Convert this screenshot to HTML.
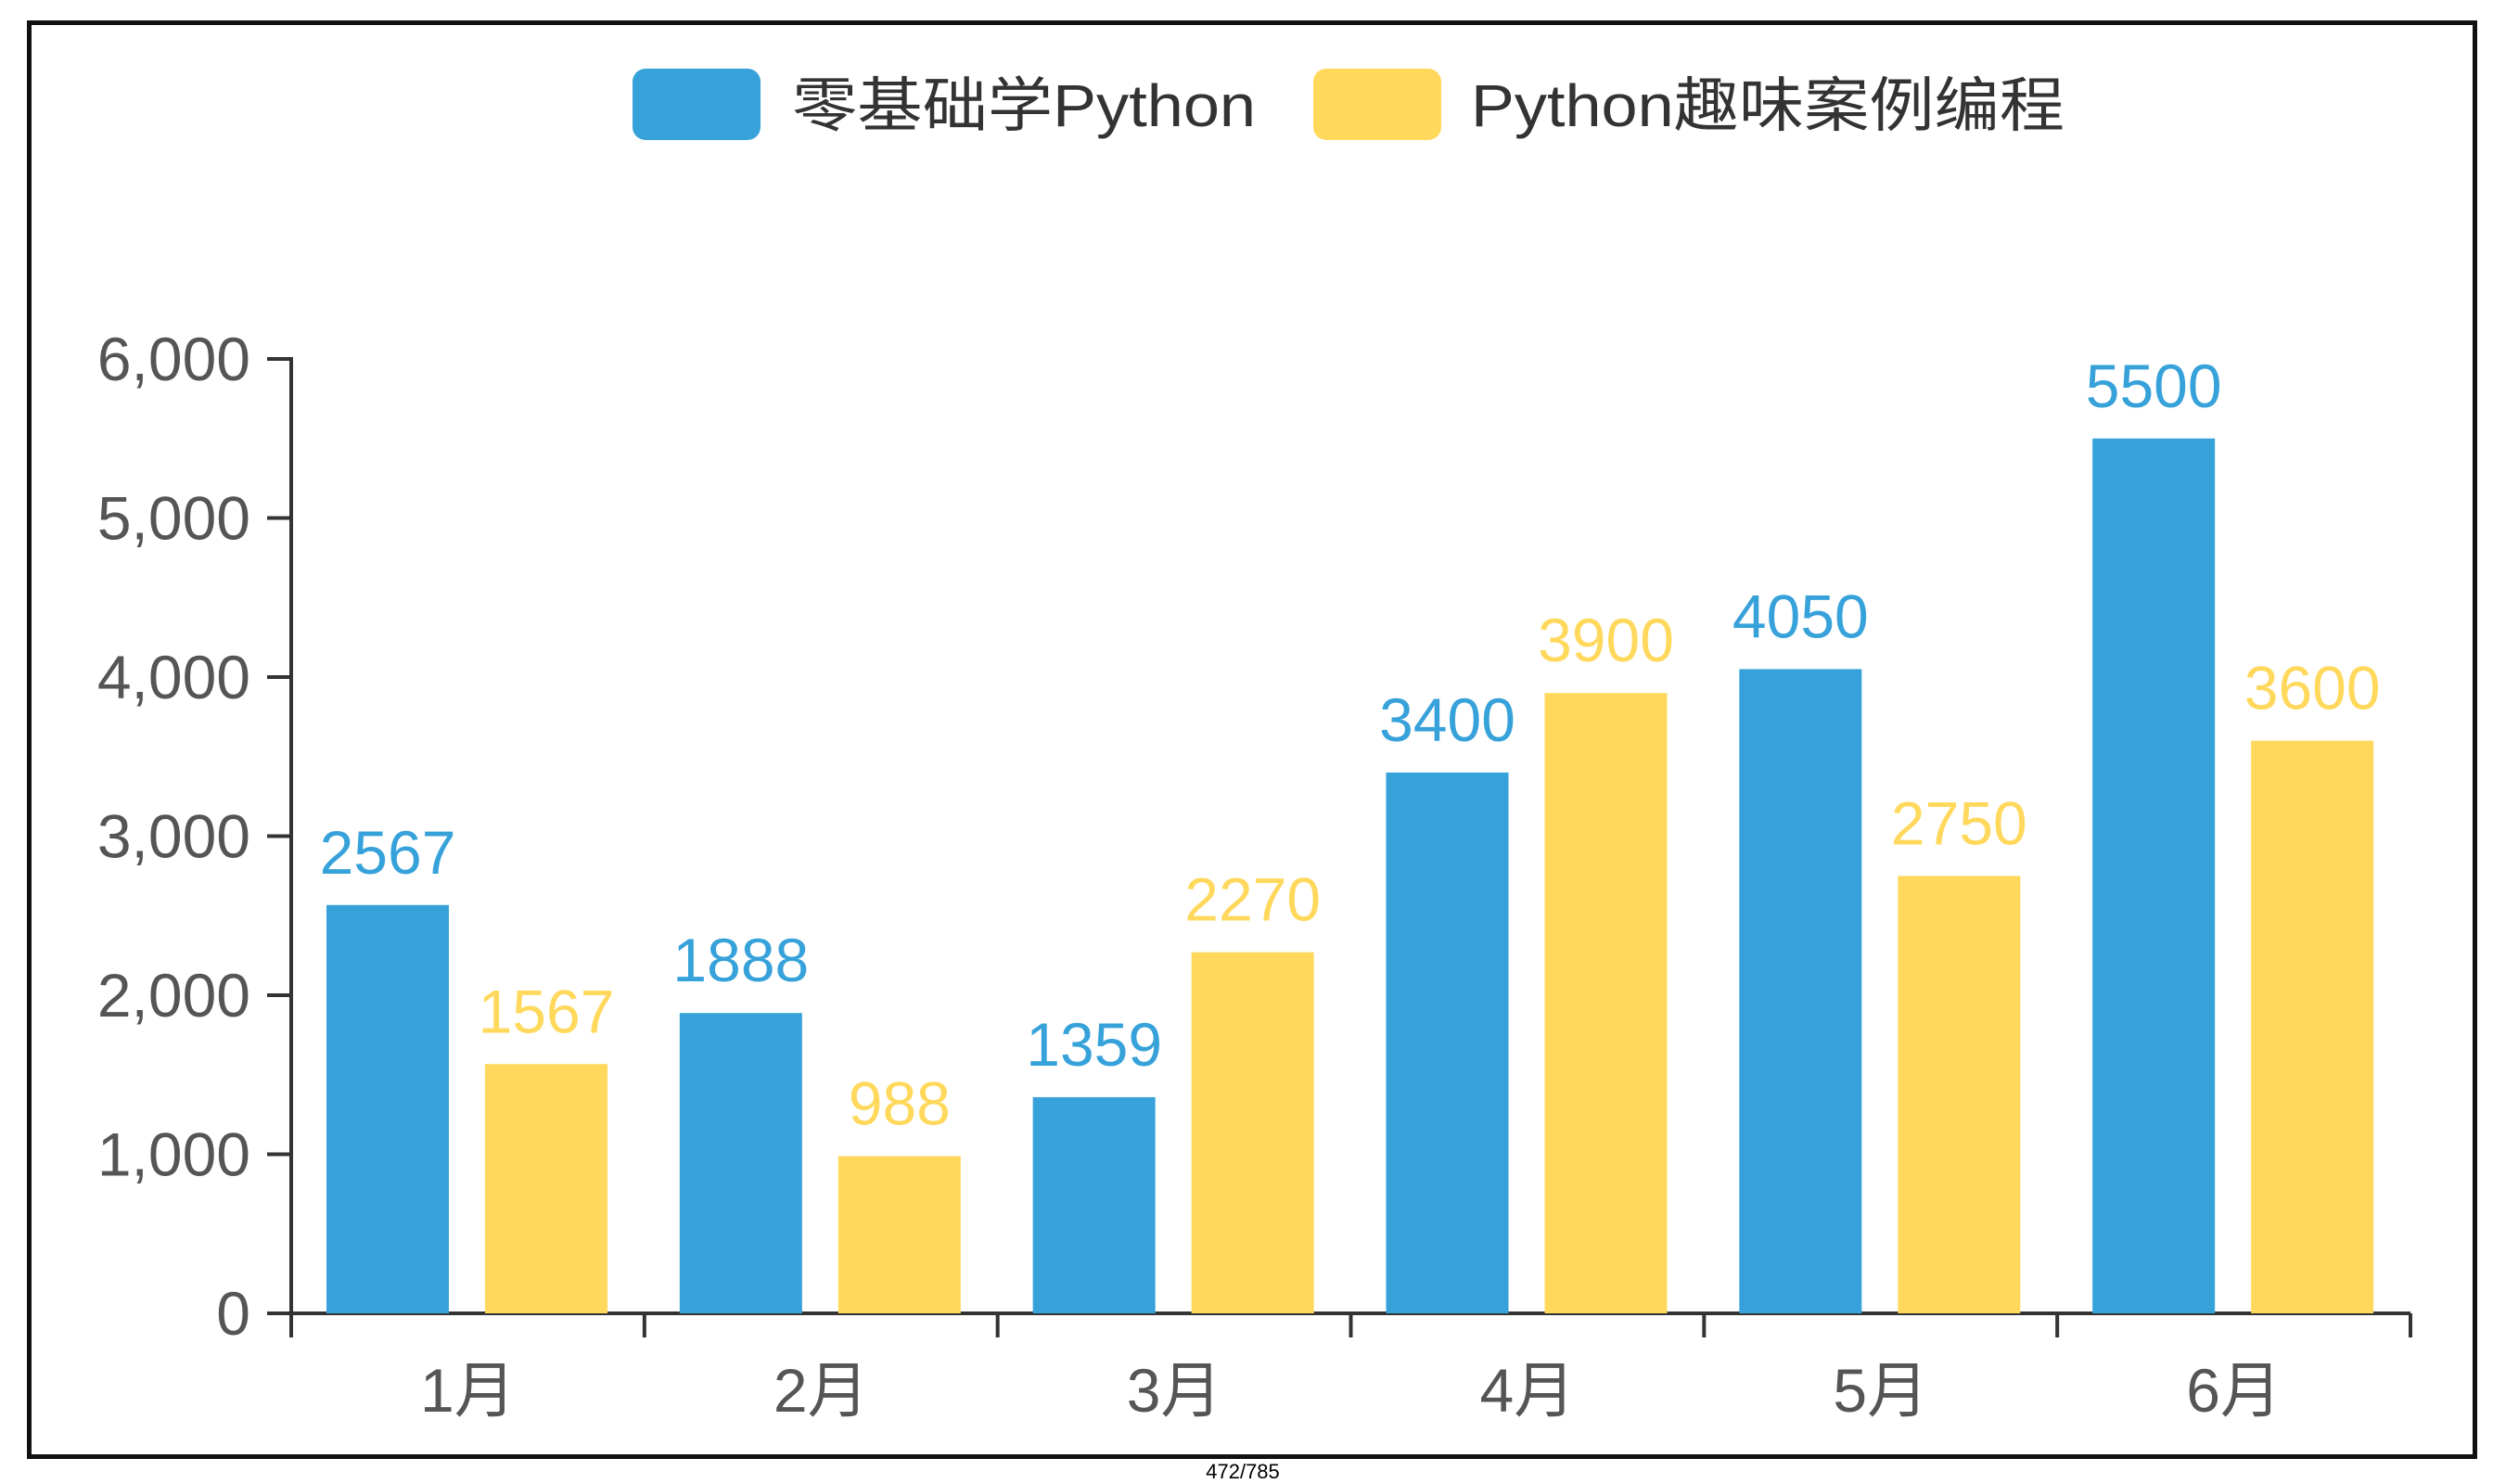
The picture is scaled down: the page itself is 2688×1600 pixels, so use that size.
<!DOCTYPE html>
<html><head><meta charset="utf-8">
<style>
html,body{margin:0;padding:0;background:#fff;}
body{width:2688px;height:1600px;position:relative;overflow:hidden;font-family:"Liberation Sans","Noto Sans CJK SC",sans-serif;}
</style></head>
<body>
<div style="position:absolute;left:29px;top:22px;width:2632px;height:1541px;border:5px solid #111;"></div>
<div style="position:absolute;left:1290px;top:1574px;width:100px;text-align:center;font-size:22px;color:#000;">472/785</div>
<svg id="chart" width="2688" height="1600" style="position:absolute;left:0;top:0" xmlns="http://www.w3.org/2000/svg"></svg>
<script>
const categories = ["1月","2月","3月","4月","5月","6月"];
const seriesNames = ["零基础学Python","Python趣味案例编程"];
const seriesA = [2567,1888,1359,3400,4050,5500];
const seriesB = [1567,988,2270,3900,2750,3600];
const yTicks = [0,1000,2000,3000,4000,5000,6000];
const yTickLabels = ["0","1,000","2,000","3,000","4,000","5,000","6,000"];

const NS = "http://www.w3.org/2000/svg";
const svg = document.getElementById("chart");
const colors = ["#37a2da","#ffd85c"];
const x0 = 314, x1 = 2599, y0 = 1416, yTop = 387, yMax = 6000;
const band = (x1 - x0) / categories.length;
function yScale(v){ return y0 - (v / yMax) * (y0 - yTop); }
function xBand(i){ return x0 + i * band; }
function mk(tag, attrs){ const e = document.createElementNS(NS, tag); for (const k in attrs) e.setAttribute(k, attrs[k]); svg.appendChild(e); return e; }

// legend
const legendX = [682, 1416];
const legendTextX = [854, 1586];
const legendLen = [500, 640];
seriesNames.forEach((n, i) => {
  const r = mk("rect", {x: legendX[i], y: 74, width: 138, height: 77, rx: 14, fill: colors[i]});
  
  
  const t = mk("text", {x: legendTextX[i], y: 136, "font-size": 64, fill: "#333", textLength: legendLen[i], lengthAdjust: "spacingAndGlyphs"});
  t.textContent = n;
  
  
});

// y axis
const yAxis = mk("line", {x1: x0, y1: yTop - 2, x2: x0, y2: y0, stroke: "#333", "stroke-width": 4});


yTicks.forEach((v, i) => {
  const y = yScale(v);
  const tk = mk("line", {x1: x0 - 26, y1: y, x2: x0, y2: y, stroke: "#333", "stroke-width": 4});
  
  
  const t = mk("text", {x: 270, y: y + 23, "font-size": 66, fill: "#555", "text-anchor": "end"});
  t.textContent = yTickLabels[i];
  
  
});

// x axis
const xAxis = mk("line", {x1: x0, y1: y0, x2: x1, y2: y0, stroke: "#333", "stroke-width": 4});


for (let i = 0; i <= categories.length; i++) {
  const tk = mk("line", {x1: xBand(i), y1: y0, x2: xBand(i), y2: y0 + 26, stroke: "#333", "stroke-width": 4});
  
  
}
categories.forEach((c, i) => {
  const t = mk("text", {x: xBand(i) + band / 2, y: 1522, "font-size": 66, fill: "#555", "text-anchor": "middle"});
  t.textContent = c;
  
  
});

// bars
const barW = 132, offs = [38, 209];
[seriesA, seriesB].forEach((s, si) => {
  s.forEach((v, i) => {
    const bx = xBand(i) + offs[si];
    const by = yScale(v);
    const r = mk("rect", {x: bx, y: by, width: barW, height: y0 - by, fill: colors[si]});
    
    
    const t = mk("text", {x: bx + barW / 2, y: by - 34, "font-size": 66, fill: colors[si], "text-anchor": "middle"});
    t.textContent = v;
    
    
  });
});
</script>
</body></html>
